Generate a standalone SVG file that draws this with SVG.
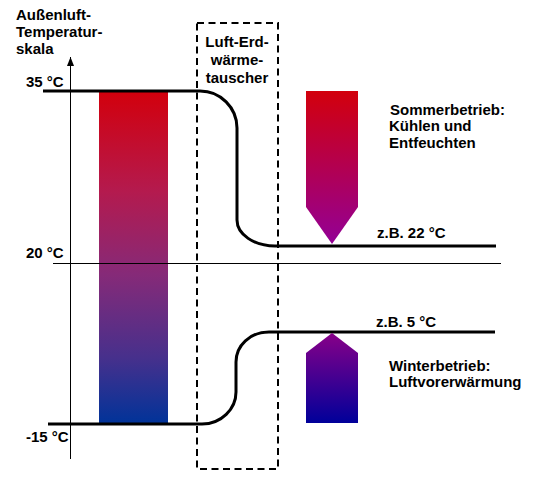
<svg xmlns="http://www.w3.org/2000/svg" width="535" height="478" viewBox="0 0 535 478">
<defs>
<style>
text{font-family:"Liberation Sans",Arial,sans-serif;font-weight:bold;font-size:15px;fill:#000}
.thick{fill:none;stroke:#000;stroke-width:3}
.thin{fill:none;stroke:#000;stroke-width:1}
.dash{fill:none;stroke:#000;stroke-width:2;stroke-dasharray:7 4.5}
</style>
<linearGradient id="gBar" x1="0" y1="0" x2="0" y2="1">
<stop offset="0" stop-color="#d2000c"/>
<stop offset="0.3" stop-color="#b41a4e"/>
<stop offset="0.55" stop-color="#862a78"/>
<stop offset="0.8" stop-color="#47308c"/>
<stop offset="1" stop-color="#003399"/>
</linearGradient>
<linearGradient id="gSummer" x1="0" y1="0" x2="0" y2="1">
<stop offset="0" stop-color="#d2000c"/>
<stop offset="1" stop-color="#930096"/>
</linearGradient>
<linearGradient id="gWinter" x1="0" y1="0" x2="0" y2="1">
<stop offset="0" stop-color="#880088"/>
<stop offset="1" stop-color="#00009a"/>
</linearGradient>
<marker id="ah" markerWidth="9" markerHeight="8" refX="9" refY="4" orient="auto" markerUnits="userSpaceOnUse" viewBox="0 0 9 8">
<path d="M0,0.5 L9,4 L0,7.5 Z" fill="#000"/>
</marker>
</defs>
<rect width="535" height="478" fill="#fff"/>

<g id="scale">
<rect id="bar" x="99" y="91" width="69" height="333" fill="url(#gBar)"/>
<line class="thin" x1="70.5" y1="459" x2="70.5" y2="57" marker-end="url(#ah)"/>
<line class="thin" x1="53" y1="263.5" x2="501" y2="263.5"/>
<text x="16" y="20">Außenluft-</text>
<text x="16" y="37">Temperatur-</text>
<text x="16" y="54">skala</text>
<text x="26" y="87">35 °C</text>
<text x="26" y="258">20 °C</text>
<text x="26" y="442">-15 °C</text>
</g>

<g id="exchanger">
<rect class="dash" x="197" y="23" width="81" height="446"/>
<text x="237" y="47" text-anchor="middle">Luft-Erd-</text>
<text x="237" y="65" text-anchor="middle">wärme-</text>
<text x="237" y="83" text-anchor="middle">tauscher</text>
</g>

<g id="connectors">
<path class="thick" d="M43,91 H200 C220.4,91 237,107.6 237,128 V220 C237,234.3 254,246 275,246 H496"/>
<path class="thick" d="M48,424 H202 C221.3,424 236,409 236,392 V362 C236,345.4 250,332 269,332 H495"/>
</g>

<g id="summer">
<polygon points="306,91 358,91 358,207 332,244 306,207" fill="url(#gSummer)"/>
<text x="390" y="115">Sommerbetrieb:</text>
<text x="389" y="131">Kühlen und</text>
<text x="389" y="148">Entfeuchten</text>
<text x="377" y="238">z.B. 22 °C</text>
</g>

<g id="winter">
<polygon points="332,333 358,353 358,423 306,423 306,353" fill="url(#gWinter)"/>
<text x="376" y="327">z.B. 5 °C</text>
<text x="389" y="371">Winterbetrieb:</text>
<text x="389" y="387">Luftvorerwärmung</text>
</g>
</svg>
